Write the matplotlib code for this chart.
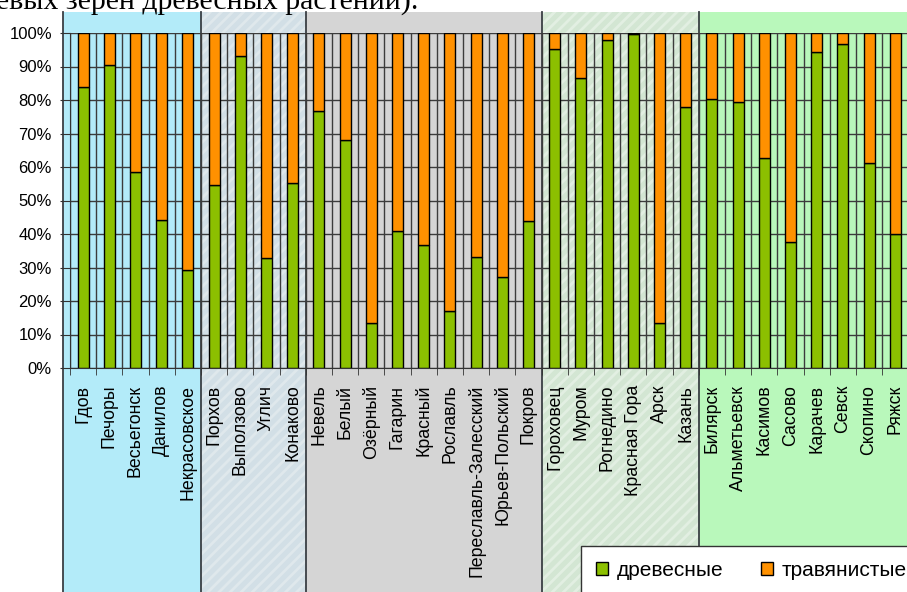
import numpy as np
import matplotlib.pyplot as plt
from matplotlib.patches import Rectangle, Patch

plt.rcParams['font.family'] = ['Liberation Sans', 'DejaVu Sans']
plt.rcParams['hatch.linewidth'] = 2.0

cities = [
    'Гдов', 'Печоры', 'Весьегонск', 'Данилов', 'Некрасовское',
    'Порхов', 'Выползово', 'Углич', 'Конаково',
    'Невель', 'Белый', 'Озёрный', 'Гагарин', 'Красный', 'Рославль',
    'Переславль-Залесский', 'Юрьев-Польский', 'Покров',
    'Гороховец', 'Муром', 'Рогнедино', 'Красная Гора', 'Арск', 'Казань',
    'Билярск', 'Альметьевск', 'Касимов', 'Сасово', 'Карачев', 'Севск',
    'Скопино', 'Ряжск',
]
# share of tree pollen, %
trees = [
    84.0, 90.4, 58.6, 44.3, 29.3,
    54.6, 93.1, 32.7, 55.3,
    76.8, 68.1, 13.3, 41.0, 36.8, 17.0, 33.0, 27.1, 43.9,
    95.1, 86.7, 97.9, 99.6, 13.4, 78.0,
    80.3, 79.3, 62.8, 37.5, 94.4, 96.7, 61.1, 40.0,
]
herbs = [100 - t for t in trees]

group_sizes = [5, 4, 9, 6, 8]
group_colors = ['#b3ebf9', '#d2dfe6', '#d5d5d5', '#d3e6d3', '#b9f8bb']
group_hatch = [None, '///', None, '///', None]
hatch_colors = [None, '#dfe8ec', None, '#e2efe2', None]

W, H = 907, 592
fig = plt.figure(figsize=(W / 100, H / 100), dpi=100)
ax = fig.add_axes([70 / W, 224 / H, (W - 70) / W, 335 / H])
ax.set_facecolor('none')

x = np.arange(len(cities))
ax.set_xlim(-0.5, 31.45)
ax.set_ylim(0, 100)

# coloured bands behind the chart, running off the axes
top, bottom = 106.3, -67.5
bounds = np.concatenate([[-0.77], np.cumsum(group_sizes) - 0.5])
bounds[-1] = 33
for i in range(len(group_sizes)):
    r = Rectangle((bounds[i], bottom), bounds[i + 1] - bounds[i], top - bottom,
                  facecolor=group_colors[i], edgecolor=hatch_colors[i] or 'none',
                  hatch=group_hatch[i], linewidth=0, clip_on=False, zorder=0)
    ax.add_patch(r)
for b in bounds[:-1]:
    ax.plot([b, b], [bottom, top], color='#3a3f44', lw=1.3, clip_on=False, zorder=0.3)

ax.bar(x, trees, width=0.42, color='#8cc000', edgecolor='black', lw=1,
       zorder=2, label='древесные')
ax.bar(x, herbs, width=0.42, bottom=trees, color='#ff9100', edgecolor='black',
       lw=1, zorder=2, label='травянистые')

ax.set_axisbelow(True)
ax.set_yticks(np.arange(0, 101, 10))
ax.set_yticklabels([f'{v}%' for v in range(0, 101, 10)], fontsize=12)
ax.set_xticks(x)
ax.set_xticklabels(cities, rotation=90, fontsize=12.8, va='top')
ax.set_xticks(np.arange(-0.5, 31.5, 1), minor=True)
ax.tick_params(axis='x', which='major', length=0, pad=12)
ax.tick_params(axis='x', which='minor', length=5, color='#333333')
ax.tick_params(axis='y', length=7, pad=6, color='#333333')
ax.grid(axis='y', color='#3c3c3c', lw=1)
ax.grid(axis='x', which='minor', color='#3c3c3c', lw=1)
for s in ['top', 'right']:
    ax.spines[s].set_visible(False)
for s in ['left', 'bottom']:
    ax.spines[s].set_color('#333333')

handles = [Patch(facecolor='#8cc000', edgecolor='black'),
           Patch(facecolor='#ff9100', edgecolor='black')]
leg = fig.legend(handles, ['древесные', 'травянистые'], ncol=2,
                 loc='upper left', bbox_to_anchor=(581 / W, 1 - 546 / H),
                 fontsize=15, fancybox=False, framealpha=1, edgecolor='#333333',
                 handlelength=0.6, handleheight=0.6, handletextpad=0.4,
                 columnspacing=1.8, borderpad=0.7, borderaxespad=0)
leg.get_frame().set_linewidth(1)

fig.text(-0.004, 1 - 9 / H, 'евых зерен древесных растений).',
         family='Liberation Serif', fontsize=21.5, va='baseline', ha='left')

fig.savefig('out.png', dpi=100)
